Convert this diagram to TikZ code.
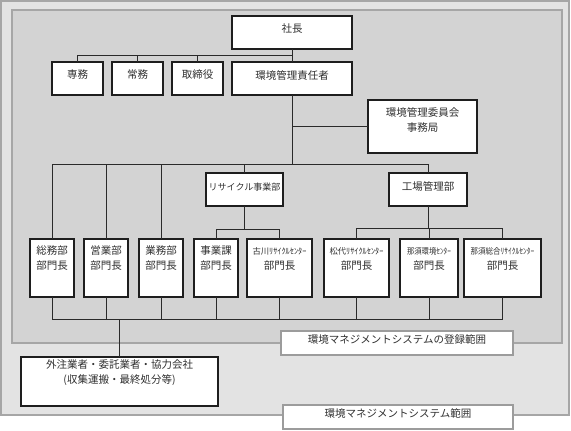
\documentclass[tikz,border=0pt]{standalone}
\usepackage{fontspec}
\usepackage{graphicx}
\newfontfamily\jp{Noto Sans CJK JP}
\definecolor{outerfill}{HTML}{E3E3E3}
\definecolor{innerfill}{HTML}{D3D3D3}
\definecolor{framecol}{HTML}{A6A6A6}
\definecolor{labelline}{HTML}{9C9C9C}
\definecolor{boxline}{HTML}{1E1E1E}
\definecolor{connline}{HTML}{2A2A2A}
\definecolor{textcol}{HTML}{303030}
\newcommand\smalltxt[2]{\resizebox{#1}{7pt}{\jp\fontsize{8}{8}\selectfont #2}}
\begin{document}
\begin{tikzpicture}[x=1pt,y=-1pt,
  box/.style={draw=boxline, fill=white, line width=1.1pt, inner sep=0pt, outer sep=0pt},
  labelbox/.style={draw=labelline, fill=white, line width=2pt, inner sep=0pt, outer sep=0pt},
  conn/.style={draw=connline, line width=0.9pt},
  txt/.style={font=\jp\fontsize{10.5}{15}\selectfont, text=textcol, align=center, inner sep=0pt},
  smtxt/.style={font=\jp\fontsize{9}{12}\selectfont, text=textcol, align=center, inner sep=0pt}]
\useasboundingbox (0,0) rectangle (571,431);
% frames
\draw[fill=outerfill, draw=framecol, line width=2pt] (1,1) rectangle (569,415);
\draw[fill=innerfill, draw=framecol, line width=2.5pt] (12,10) rectangle (562,343);

% top
\node[box, minimum width=120pt, minimum height=33pt, label={[txt,yshift=3.5pt]center:社長}] (pres) at (292,32.5) {};
\node[box, minimum width=51pt, minimum height=33pt, label={[txt,yshift=3.5pt]center:専務}] (senmu) at (77.5,78.5) {};
\node[box, minimum width=51pt, minimum height=33pt, label={[txt,yshift=3.5pt]center:常務}] (joumu) at (137.5,78.5) {};
\node[box, minimum width=51pt, minimum height=33pt, label={[txt,yshift=3.5pt]center:取締役}] (tori) at (197.5,78.5) {};
\node[box, minimum width=120pt, minimum height=33pt, label={[txt,yshift=3.5pt]center:環境管理責任者}] (kanri) at (292,78.5) {};
\node[box, minimum width=109pt, minimum height=53pt, label={[txt,yshift=6.5pt]center:{環境管理委員会\\事務局}}] (iinkai) at (422.5,126.5) {};

% middle
\node[box, minimum width=77pt, minimum height=33pt, label={[smtxt,yshift=2.5pt]center:リサイクル事業部}] (recy) at (244.5,189.5) {};
\node[box, minimum width=78pt, minimum height=33pt, label={[txt,yshift=2.5pt]center:工場管理部}] (kojo) at (428,189.5) {};

% bottom row
\node[box, minimum width=44pt, minimum height=58pt, label={[txt,yshift=9.5pt]center:{総務部\\部門長}}] (soumu) at (52,268) {};
\node[box, minimum width=44pt, minimum height=58pt, label={[txt,yshift=9.5pt]center:{営業部\\部門長}}] (eigyo) at (106,268) {};
\node[box, minimum width=44pt, minimum height=58pt, label={[txt,yshift=9.5pt]center:{業務部\\部門長}}] (gyomu) at (161,268) {};
\node[box, minimum width=44pt, minimum height=58pt, label={[txt,yshift=9.5pt]center:{事業課\\部門長}}] (jigyo) at (216,268) {};
\node[box, minimum width=65pt, minimum height=58pt, label={[txt,yshift=9.5pt]center:{\smalltxt{54pt}{古川ﾘｻｲｸﾙｾﾝﾀｰ}\\部門長}}] (furu) at (279.5,268) {};
\node[box, minimum width=65pt, minimum height=58pt, label={[txt,yshift=9.5pt]center:{\smalltxt{54pt}{松代ﾘｻｲｸﾙｾﾝﾀｰ}\\部門長}}] (matsu) at (356.5,268) {};
\node[box, minimum width=58pt, minimum height=58pt, label={[txt,yshift=9.5pt]center:{\smalltxt{44pt}{那須環境ｾﾝﾀｰ}\\部門長}}] (nasuk) at (429,268) {};
\node[box, minimum width=77pt, minimum height=58pt, label={[txt,yshift=9.5pt]center:{\smalltxt{64pt}{那須総合ﾘｻｲｸﾙｾﾝﾀｰ}\\部門長}}] (nasus) at (502.5,268) {};

% outside
\node[box, minimum width=197pt, minimum height=49pt, label={[txt,yshift=9pt]center:{外注業者・委託業者・協力会社\\(収集運搬・最終処分等)}}] (gai) at (119.5,381.5) {};

% scope labels
\node[labelbox, minimum width=232pt, minimum height=24pt, label={[txt,yshift=4pt]center:環境マネジメントシステムの登録範囲}] (lab1) at (397,343) {};
\node[labelbox, minimum width=230pt, minimum height=24pt, label={[txt,yshift=4pt]center:環境マネジメントシステム範囲}] (lab2) at (398,417) {};

% coordinates
\coordinate (j1) at (292,55);
\coordinate (bus) at (0,164);
\coordinate (sub1) at (0,229);
\coordinate (sub2) at (0,228);
\coordinate (bot) at (0,319);

% connectors
\draw[conn] (pres.south) -- (kanri.north);
\draw[conn] (senmu.north) |- (j1);
\draw[conn] (joumu.north) -- (joumu.north |- j1);
\draw[conn] (tori.north) -- (tori.north |- j1);
\draw[conn] (kanri.south) -- (kanri.south |- bus);
\draw[conn] (iinkai.west) -- (kanri.south |- iinkai.west);
\draw[conn] (soumu.north) |- (kojo.north |- bus) -- (kojo.north);
\draw[conn] (eigyo.north) -- (eigyo.north |- bus);
\draw[conn] (gyomu.north) -- (gyomu.north |- bus);
\draw[conn] (recy.north) -- (recy.north |- bus);
\draw[conn] (recy.south) -- (recy.south |- sub1);
\draw[conn] (jigyo.north) |- (furu.north |- sub1) -- (furu.north);
\draw[conn] (kojo.south) -- (kojo.south |- sub2);
\draw[conn] (matsu.north) |- (nasus.north |- sub2) -- (nasus.north);
\draw[conn] (nasuk.north) -- (nasuk.north |- sub2);
\draw[conn] (soumu.south) |- (nasus.south |- bot) -- (nasus.south);
\draw[conn] (eigyo.south) -- (eigyo.south |- bot);
\draw[conn] (gyomu.south) -- (gyomu.south |- bot);
\draw[conn] (jigyo.south) -- (jigyo.south |- bot);
\draw[conn] (furu.south) -- (furu.south |- bot);
\draw[conn] (matsu.south) -- (matsu.south |- bot);
\draw[conn] (nasuk.south) -- (nasuk.south |- bot);
\draw[conn] (gai.north) -- (gai.north |- bot);
\end{tikzpicture}
\end{document}
